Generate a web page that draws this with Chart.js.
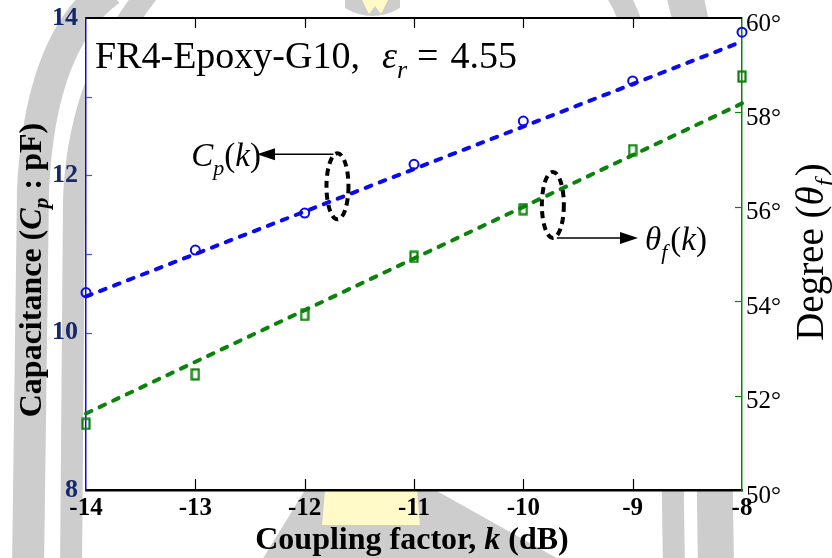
<!DOCTYPE html>
<html>
<head>
<meta charset="utf-8">
<script src="https://cdn.jsdelivr.net/npm/chart.js@4.4.1/dist/chart.umd.min.js"></script>
<style>
  html, body { margin: 0; padding: 0; background: #fff; }
  #wrap { width: 832px; height: 558px; }
</style>
</head>
<body>
<div id="wrap"><canvas id="cap-chart" width="832" height="558"></canvas></div>
<script>
// coupling factor k (dB)
const couplingK = [-14, -13, -12, -11, -10, -9, -8];
// measured capacitance Cp (pF)
const capValues = [10.51, 11.05, 11.52, 12.14, 12.69, 13.20, 13.82];
// measured degree theta_f
const degValues = [51.40, 52.45, 53.71, 54.94, 55.95, 57.20, 58.76];
// dashed fit lines, end points at k = -14 and k = -8
const fitK = [-14, -8];
const capFit = [10.46, 13.70];
const degFit = [51.62, 58.19];
// tick labels
const capTicks = [8, 10, 12, 14];
const degTicks = [50, 52, 54, 56, 58, 60];

const SERIF = "'Liberation Serif', 'DejaVu Serif', serif";
const BLUE = "#0a0af0";
const GREEN = "#0b830b";

const pts = (xs, ys) => xs.map((x, i) => ({ x: x, y: ys[i] }));

// hollow tall square marker
const sq = document.createElement("canvas");
sq.width = 10; sq.height = 13;
const sctx = sq.getContext("2d");
sctx.strokeStyle = GREEN;
sctx.lineWidth = 2.2;
sctx.strokeRect(1.5, 1.5, 7, 10);

// draw a list of text runs
function drawRuns(ctx, parts, x, y, align) {
  let total = 0;
  parts.forEach(p => { ctx.font = p.f; total += ctx.measureText(p.t).width + (p.gap || 0); });
  let cx = align === "center" ? x - total / 2 : align === "right" ? x - total : x;
  ctx.textBaseline = "alphabetic";
  ctx.textAlign = "left";
  parts.forEach(p => {
    ctx.font = p.f;
    ctx.fillText(p.t, cx, y + (p.dy || 0));
    cx += ctx.measureText(p.t).width + (p.gap || 0);
  });
  return total;
}

// keep the plot box fixed
const fixBox = (w, h) => s => {
  if (w) s.width = w;
  if (h) s.height = h;
  s.paddingTop = 0; s.paddingBottom = 0; s.paddingLeft = 0; s.paddingRight = 0;
};

const backdrop = {
  id: "backdrop",
  beforeDraw(chart) {
    const c = chart.ctx, a = chart.chartArea;
    c.save();
    c.fillStyle = "#fff";
    c.fillRect(0, 0, chart.width, chart.height);
    // faint watermark behind the chart
    c.strokeStyle = "#cdcdcd";
    c.lineCap = "butt";
    c.lineWidth = 32;
    c.beginPath(); c.moveTo(28, 570); c.lineTo(33, 190); c.quadraticCurveTo(40, 40, 110, -10); c.stroke();
    c.lineWidth = 22;
    c.beginPath(); c.moveTo(71, 570); c.lineTo(74, 200); c.quadraticCurveTo(78, 80, 150, -10); c.stroke();
    c.lineWidth = 22;
    c.beginPath(); c.moveTo(674, 570); c.lineTo(670, 300); c.quadraticCurveTo(660, 60, 615, -10); c.stroke();
    c.lineWidth = 36;
    c.beginPath(); c.moveTo(716, 570); c.lineTo(712, 300); c.quadraticCurveTo(705, 60, 683, -10); c.stroke();
    c.fillStyle = "#cdcdcd";
    c.beginPath(); c.moveTo(305, 490); c.lineTo(435, 490); c.lineTo(560, 560); c.lineTo(262, 560); c.closePath(); c.fill();
    c.beginPath(); c.moveTo(345, -5); c.lineTo(400, -5); c.lineTo(400, 8); c.quadraticCurveTo(372, 24, 345, 8); c.closePath(); c.fill();
    c.fillStyle = "#fffac8";
    c.beginPath(); c.moveTo(325, 490); c.lineTo(417, 490); c.lineTo(420, 525); c.lineTo(322, 525); c.closePath(); c.fill();
    c.beginPath(); c.moveTo(362, 0); c.lineTo(388, 0); c.lineTo(381, 14); c.lineTo(375, 6); c.lineTo(369, 14); c.closePath(); c.fill();
    // plot area
    c.fillStyle = "#fff";
    c.fillRect(a.left, a.top, a.right - a.left, a.bottom - a.top);
    c.restore();
  },
  afterDraw(chart) {
    const c = chart.ctx, a = chart.chartArea;
    const xs = chart.scales.x, yl = chart.scales.y, yr = chart.scales.y1;
    c.save();
    // frame top
    c.strokeStyle = "#000";
    c.lineWidth = 2;
    c.beginPath(); c.moveTo(a.left, a.top); c.lineTo(a.right, a.top); c.stroke();
    // inward ticks
    c.lineWidth = 1.2;
    for (let k = -13; k <= -9; k++) {
      const px = Math.round(xs.getPixelForValue(k)) + 0.5;
      c.beginPath(); c.moveTo(px, a.bottom); c.lineTo(px, a.bottom - 11); c.stroke();
      c.beginPath(); c.moveTo(px, a.top); c.lineTo(px, a.top + 10); c.stroke();
    }
    c.strokeStyle = "#4a4af5";
    for (let v = 9; v <= 13; v++) {
      const py = Math.round(yl.getPixelForValue(v)) + 0.5;
      c.beginPath(); c.moveTo(a.left, py); c.lineTo(a.left + 6, py); c.stroke();
    }
    c.strokeStyle = GREEN;
    for (let v = 52; v <= 58; v += 2) {
      const py = Math.round(yr.getPixelForValue(v)) + 0.5;
      c.beginPath(); c.moveTo(a.right, py); c.lineTo(a.right - 7, py); c.stroke();
    }

    // material label
    c.fillStyle = "#000";
    drawRuns(c, [
      { t: "FR4-Epoxy-G10,", f: "38px " + SERIF, gap: 22 },
      { t: "\u03b5", f: "italic 38px " + SERIF },
      { t: "r", f: "italic 26px " + SERIF, dy: 10, gap: 10 },
      { t: "=", f: "38px " + SERIF, gap: 12 },
      { t: "4.55", f: "38px " + SERIF }
    ], 95, 68, "left");

    // dashed ellipses with arrows
    const e1 = { x: xs.getPixelForValue(-11.7), y: yl.getPixelForValue(11.86) };
    const e2 = { x: xs.getPixelForValue(-9.73), y: yr.getPixelForValue(56.04) };
    c.strokeStyle = "#000";
    c.lineWidth = 4;
    c.setLineDash([7, 5]);
    c.beginPath(); c.ellipse(e1.x, e1.y, 11, 33, 0, 0, Math.PI * 2); c.stroke();
    c.beginPath(); c.ellipse(e2.x, e2.y, 11, 33, 0, 0, Math.PI * 2); c.stroke();
    c.setLineDash([]);
    c.lineWidth = 1.5;
    const y1 = e1.y - 32, y2 = e2.y + 33;
    c.beginPath(); c.moveTo(e1.x - 4, y1); c.lineTo(272, y1); c.stroke();
    c.beginPath(); c.moveTo(257, y1); c.lineTo(275, y1 - 6); c.lineTo(275, y1 + 6); c.closePath(); c.fill();
    c.beginPath(); c.moveTo(e2.x + 4, y2); c.lineTo(622, y2); c.stroke();
    c.beginPath(); c.moveTo(638, y2); c.lineTo(620, y2 - 6); c.lineTo(620, y2 + 6); c.closePath(); c.fill();

    drawRuns(c, [
      { t: "C", f: "italic 33px " + SERIF },
      { t: "p", f: "italic 22px " + SERIF, dy: 9 },
      { t: "(", f: "33px " + SERIF },
      { t: "k", f: "italic 33px " + SERIF },
      { t: ")", f: "33px " + SERIF }
    ], 261, y1 + 12, "right");
    drawRuns(c, [
      { t: "\u03b8", f: "italic 33px " + SERIF },
      { t: "f", f: "italic 22px " + SERIF, dy: 9, gap: 3 },
      { t: "(", f: "33px " + SERIF },
      { t: "k", f: "italic 33px " + SERIF },
      { t: ")", f: "33px " + SERIF }
    ], 645, y2 + 12, "left");

    // axis titles
    drawRuns(c, [
      { t: "Coupling factor, ", f: "bold 32px " + SERIF },
      { t: "k", f: "bold italic 32px " + SERIF },
      { t: " (dB)", f: "bold 32px " + SERIF }
    ], 412, 549, "center");

    c.save();
    c.translate(41, 270);
    c.rotate(-Math.PI / 2);
    drawRuns(c, [
      { t: "Capacitance (", f: "bold 32px " + SERIF },
      { t: "C", f: "bold italic 32px " + SERIF },
      { t: "p", f: "bold italic 22px " + SERIF, dy: 7 },
      { t: " : pF)", f: "bold 32px " + SERIF }
    ], 0, 0, "center");
    c.restore();

    c.save();
    c.translate(823, 252);
    c.rotate(-Math.PI / 2);
    drawRuns(c, [
      { t: "Degree (", f: "39px " + SERIF },
      { t: "\u03b8", f: "italic 39px " + SERIF },
      { t: "f", f: "italic 26px " + SERIF, dy: 10, gap: 3 },
      { t: ")", f: "39px " + SERIF }
    ], 0, 0, "center");
    c.restore();

    c.restore();
  }
};

const data = {
  datasets: [
    {
      label: "Cp measured",
      data: pts(couplingK, capValues),
      yAxisID: "y",
      showLine: false,
      pointStyle: "circle",
      pointRadius: 4.5,
      pointBorderWidth: 2,
      pointBorderColor: BLUE,
      pointBackgroundColor: "rgba(0,0,0,0)",
      order: 0
    },
    {
      label: "Cp fit",
      data: pts(fitK, capFit),
      yAxisID: "y",
      borderColor: BLUE,
      borderWidth: 4,
      borderDash: [6, 9],
      borderCapStyle: "round",
      pointRadius: 0,
      order: 1
    },
    {
      label: "theta measured",
      data: pts(couplingK, degValues),
      yAxisID: "y1",
      showLine: false,
      pointStyle: sq,
      pointRadius: 5,
      order: 0
    },
    {
      label: "theta fit",
      data: pts(fitK, degFit),
      yAxisID: "y1",
      borderColor: GREEN,
      borderWidth: 4,
      borderDash: [6, 9],
      borderCapStyle: "round",
      pointRadius: 0,
      order: 1
    }
  ]
};

const config = {
  type: "line",
  data: data,
  options: {
    responsive: false,
    animation: false,
    clip: false,
    layout: { padding: { top: 18, left: 0, right: 0, bottom: 0 } },
    plugins: {
      legend: { display: false },
      tooltip: { enabled: false }
    },
    scales: {
      x: {
        type: "linear",
        min: -14,
        max: -8,
        afterFit: fixBox(0, 68),
        grid: { display: false, drawTicks: false },
        border: { display: true, color: "#000", width: 2.5 },
        ticks: {
          stepSize: 1,
          padding: 4,
          color: "#000",
          font: { family: SERIF, size: 25, weight: "bold" }
        }
      },
      y: {
        position: "left",
        min: 8,
        max: 14,
        afterFit: fixBox(86, 0),
        afterBuildTicks: s => { s.ticks = capTicks.map(v => ({ value: v })); },
        grid: { display: false, drawTicks: false },
        border: { display: true, color: BLUE, width: 1.5 },
        ticks: {
          padding: 8,
          color: "#14296b",
          font: { family: SERIF, size: 26, weight: "bold" }
        }
      },
      y1: {
        position: "right",
        min: 50,
        max: 60,
        afterFit: fixBox(90, 0),
        afterBuildTicks: s => { s.ticks = degTicks.map(v => ({ value: v })); },
        grid: { display: false, drawTicks: false },
        border: { display: true, color: GREEN, width: 1.5 },
        ticks: {
          padding: 4,
          labelOffset: 6,
          color: "#000",
          font: { family: SERIF, size: 25 },
          callback: v => v + "\u00b0"
        }
      }
    }
  },
  plugins: [backdrop]
};

const capChart = new Chart(document.getElementById("cap-chart").getContext("2d"), config);
</script>
</body>
</html>
